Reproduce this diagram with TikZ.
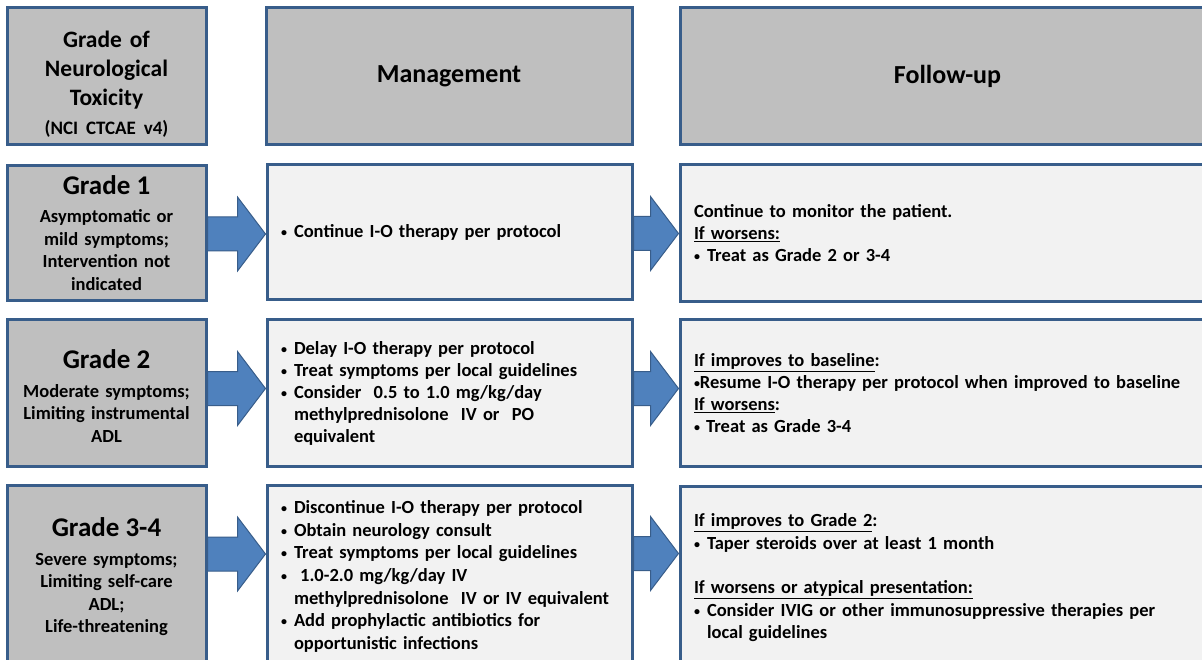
\documentclass[tikz,border=0pt]{standalone}
\usepackage{fontspec}
\setmainfont{Carlito}
\usepackage{tikz}
\usetikzlibrary{positioning, calc}

\definecolor{boxline}{RGB}{56,93,138}
\definecolor{headfill}{RGB}{191,191,191}
\definecolor{bodyfill}{RGB}{242,242,242}
\definecolor{arrowfill}{RGB}{79,129,189}
\definecolor{arrowline}{RGB}{56,93,138}

\hyphenpenalty=10000
\exhyphenpenalty=10000
\newcommand{\bdot}{\raisebox{1pt}{\fontsize{12}{12}\selectfont\textbullet}}
\newcommand{\bul}{\makebox[13pt][l]{\bdot}}
\newcommand{\ind}{\hspace*{13pt}}
% fat arrow from one box to the next
\newcommand{\blockarr}[2]{%
  \coordinate (s) at ($(#1.north east)+(0,70)$);
  \coordinate (t) at (#2.west |- s);
  \draw[blockarrow] ($(s)+(0,-17)$) -- ($(t)+(-28,-17)$) -- ($(t)+(-28,-37)$) -- (t)
    -- ($(t)+(-28,37)$) -- ($(t)+(-28,17)$) -- ($(s)+(0,17)$) -- cycle;}

\begin{document}
\begin{tikzpicture}[x=1pt, y=-1pt]
    \tikzstyle{box}=[rectangle, draw=boxline, line width=3pt, inner xsep=14pt, inner ysep=0pt]
    \tikzstyle{grey}=[box, fill=headfill, align=center, inner xsep=6pt, text width=187pt]
    \tikzstyle{light}=[box, fill=bodyfill, align=left]
    \tikzstyle{title}=[font=\bfseries\fontsize{26}{29}\selectfont]
    \tikzstyle{txt}=[font=\bfseries\fontsize{18.5}{22}\selectfont]
    \tikzstyle{blockarrow}=[fill=arrowfill, draw=arrowline, line width=1pt, line join=miter]

    \useasboundingbox (0,0) rectangle (1202,660);
    \fill[white] (0,0) rectangle (1202,660);
    \clip (0,0) rectangle (1202,660);

    % header row
    \node[grey, minimum height=137pt, font=\bfseries\fontsize{23.5}{29}\selectfont] (head) at (106.5,76.5)
      {\rule{0pt}{31.5pt}Grade of\\ Neurological\\ Toxicity\\ {\fontsize{19}{28}\selectfont (NCI CTCAE v4)}};
    \node[grey, text width=354pt, minimum height=137pt, title] (mgmt) at (449,76.5) {Management};
    \node[grey, text width=523pt, minimum height=137pt, title] (follow) at (947.5,76.5) {Follow-up};

    % grade 1
    \node[grey, minimum height=135pt, font=\bfseries\fontsize{18.5}{22.5}\selectfont] (g1) at (106.5,233)
      {{\fontsize{27}{30}\selectfont Grade 1}\\[6pt] Asymptomatic or\\ mild symptoms;\\ Intervention not\\ indicated};
    \node[light, text width=337pt, minimum height=135pt, txt] (m1) at (449.5,232.5)
      {\bul Continue I-O therapy per protocol};
    \node[light, text width=507pt, minimum height=137pt, txt] (f1) at (947.5,233.5)
      {Continue to monitor the patient.\\ \underline{If worsens:}\\ \bul Treat as Grade 2 or 3-4};

    % grade 2
    \node[grey, minimum height=146pt, font=\bfseries\fontsize{18.5}{22.5}\selectfont] (g2) at (106.5,393)
      {{\fontsize{27}{30}\selectfont\rule{0pt}{25pt}Grade 2}\\[6pt] Moderate symptoms;\\ Limiting instrumental\\ ADL};
    \node[light, text width=337pt, minimum height=146pt, txt] (m2) at (449.5,393)
      {\bul Delay I-O therapy per protocol\\ \bul Treat symptoms per local guidelines\\
       \bul Consider~~0.5 to 1.0 mg/kg/day\\ \ind methylprednisolone~~IV or~~PO\\ \ind equivalent};
    \node[light, text width=507pt, minimum height=146pt, txt] (f2) at (947.5,393)
      {\underline{If improves to baseline}:\\ \bdot Resume I-O therapy per protocol when improved to baseline\\
       \underline{If worsens}:\\ \bdot{} Treat as Grade 3-4};

    % grade 3-4
    \node[grey, minimum height=183pt, font=\bfseries\fontsize{18.5}{22.5}\selectfont] (g3) at (106.5,577)
      {{\fontsize{27}{30}\selectfont Grade 3-4}\\[6pt] Severe symptoms;\\ Limiting self-care\\ ADL;\\ Life-threatening};
    \node[light, text width=337pt, minimum height=183pt, font=\bfseries\fontsize{18.5}{22.7}\selectfont] (m3) at (449.5,576.5)
      {\bul Discontinue I-O therapy per protocol\\ \bul Obtain neurology consult\\ \bul Treat symptoms per local guidelines\\
       \bul\ 1.0-2.0 mg/kg/day IV\\ \ind methylprednisolone~~IV or IV equivalent\\
       \bul Add prophylactic antibiotics for\\ \ind opportunistic infections};
    \node[light, text width=507pt, minimum height=183pt, font=\bfseries\fontsize{18.5}{22.5}\selectfont] (f3) at (947.5,578)
      {\underline{If improves to Grade 2}:\\ \bul Taper steroids over at least 1 month\\[22pt]
       \underline{If worsens or atypical presentation:}\\ \bul Consider IVIG or other immunosuppressive therapies per\\
       \ind local guidelines};

    \blockarr{g1}{m1}
    \blockarr{m1}{f1}
    \blockarr{g2}{m2}
    \blockarr{m2}{f2}
    \blockarr{g3}{m3}
    \blockarr{m3}{f3}
\end{tikzpicture}
\end{document}
